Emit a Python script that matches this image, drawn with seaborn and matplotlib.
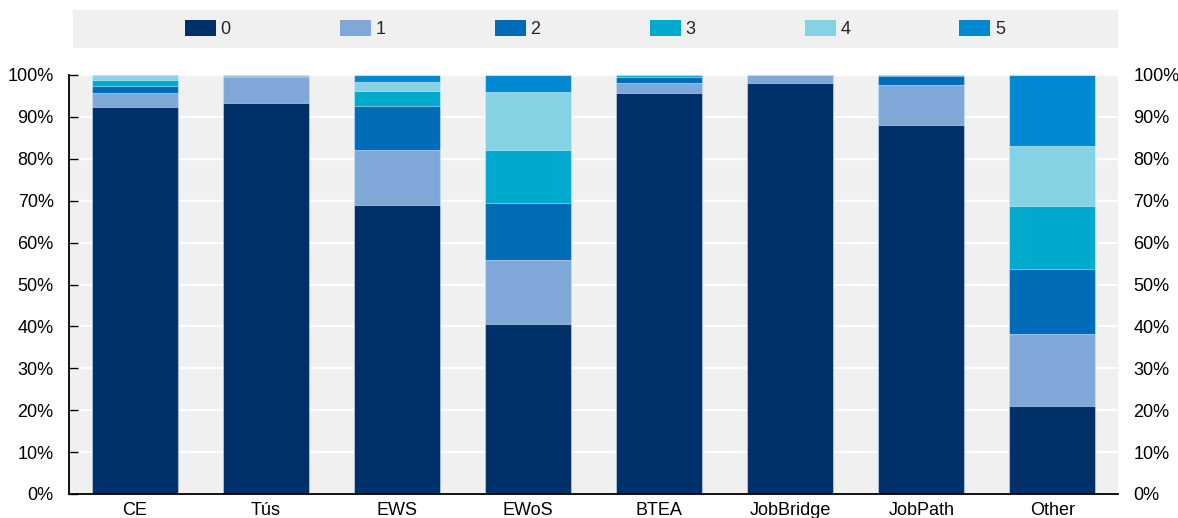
import numpy as np
import pandas as pd
import matplotlib
matplotlib.use("Agg")
import matplotlib.pyplot as plt
from matplotlib import font_manager
from matplotlib.patches import Rectangle, Patch
import seaborn as sns

categories = ["CE", "Tús", "EWS", "EWoS", "BTEA", "JobBridge", "JobPath", "Other"]
series_names = ["0", "1", "2", "3", "4", "5"]
s0 = [92.4, 93.4, 68.9, 40.6, 95.8, 98.0, 88.0, 21.0]
s1 = [3.4, 6.2, 13.1, 15.3, 2.3, 2.0, 9.5, 17.2]
s2 = [1.6, 0.1, 10.7, 13.5, 1.5, 0.0, 2.2, 15.5]
s3 = [1.4, 0.0, 3.4, 12.7, 0.3, 0.0, 0.3, 15.0]
s4 = [0.95, 0.0, 2.2, 13.8, 0.1, 0.0, 0.0, 14.3]
s5 = [0.25, 0.3, 1.6, 4.1, 0.0, 0.0, 0.0, 17.0]
colors = ["#003069", "#7FA8D9", "#006BB6", "#00AACC", "#86D2E5", "#0089D0"]
yticks = list(range(0, 101, 10))
ytick_labels = [f"{v}%" for v in yticks]

sns.set_style("white")
names = {f.name for f in font_manager.fontManager.ttflist}
if "Liberation Sans Narrow" in names:
    fam = ["Liberation Sans Narrow", "DejaVu Sans"]
    fs = 14.5
else:
    fam = ["Liberation Sans", "DejaVu Sans"]
    fs = 13
plt.rcParams["font.family"] = fam
fpx = fs * 100 / 72

fig = plt.figure(figsize=(11.78, 5.18), dpi=100)
ax = fig.add_axes([69 / 1178, 1 - 494 / 518, (1118 - 69) / 1178, (494 - 75) / 518])
ax.set_facecolor("#F0F0F0")

stack = np.array([s0, s1, s2, s3, s4, s5])
cum = np.cumsum(stack, axis=0)
for i in range(len(series_names) - 1, -1, -1):
    df = pd.DataFrame({"category": categories, "value": cum[i]})
    sns.barplot(data=df, x="category", y="value", color=colors[i], width=0.656,
                saturation=1, ax=ax, edgecolor=(1, 1, 1, 0.45), linewidth=0.8,
                zorder=2)

ax.set_xlim(-0.5, len(categories) - 0.5)
ax.set_ylim(0, 100)
ax.set_yticks(yticks)
ax.set_yticklabels(ytick_labels)
ax.set_xlabel("")
ax.set_ylabel("")
ax.set_axisbelow(True)
ax.yaxis.grid(True, color="white", linewidth=1.6, zorder=0)
ax.xaxis.grid(False)
for sp in ["top", "right"]:
    ax.spines[sp].set_visible(False)
for sp in ["left", "bottom"]:
    ax.spines[sp].set_visible(True)
    ax.spines[sp].set_color("black")
    ax.spines[sp].set_linewidth(1.3)
    ax.spines[sp].set_zorder(3)
ax.tick_params(axis="y", left=True, right=False, labelleft=True, labelright=True,
               direction="in", length=6.5, width=1, color="black", pad=11,
               labelsize=fs, labelcolor="black")
ax.tick_params(axis="x", length=0, pad=5.5, labelsize=fs, labelcolor="black")

# legend background box
fig.patches.append(Rectangle((73 / 1178, 1 - 48 / 518), (1118 - 73) / 1178, 38 / 518,
                             transform=fig.transFigure, facecolor="#F0F0F0",
                             edgecolor="none", zorder=0))
handles = [Patch(facecolor=c, edgecolor="none") for c in colors]
fig.legend(handles, series_names, loc="center", bbox_to_anchor=(595 / 1178, 1 - 29 / 518),
           ncol=6, frameon=False, fontsize=fs, handlelength=31 / fpx, handleheight=17 / fpx,
           handletextpad=5 / fpx, columnspacing=(155 - 31 - 5 - 0.556 * fpx) / fpx)

fig.savefig("out.png", dpi=100)
